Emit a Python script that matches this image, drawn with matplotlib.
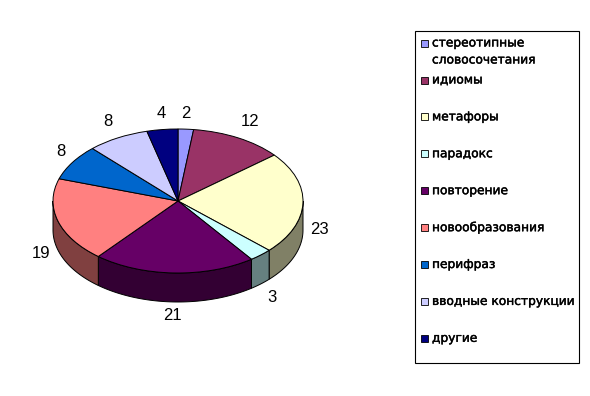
import numpy as np
import matplotlib
matplotlib.use("Agg")
import matplotlib.pyplot as plt
import matplotlib.patheffects as pe
from matplotlib.patches import Rectangle

W, H = 590, 396

# Data
labels = ["стереотипные\nсловосочетания", "идиомы", "метафоры", "парадокс", "повторение",
          "новообразования", "перифраз", "вводные конструкции", "другие"]
values = [2, 12, 23, 3, 21, 19, 8, 8, 4]
colors = ["#9999FF", "#993366", "#FFFFCC", "#CCFFFF", "#660066",
          "#FF8080", "#0066CC", "#CCCCFF", "#000080"]
side_colors = ["#4D4D80", "#4D1A33", "#808066", "#668080", "#330033",
               "#804040", "#003366", "#666680", "#000040"]
label_px = [(186, 113), (250, 121), (319, 230), (272, 298), (172, 316),
            (41, 253), (61, 152), (108, 121), (161, 114)]

# Pie geometry in pixels
cx, cy, rx, ry, depth = 178, 201, 125, 72, 29

fig = plt.figure(figsize=(W / 100, H / 100), dpi=100)
ax = fig.add_axes([0, 0, 1, 1])

wedges, _ = ax.pie(values, colors=colors, startangle=90, counterclock=False,
                   wedgeprops=dict(edgecolor="black", linewidth=0.7, zorder=3))
ax.set_aspect("auto")
ax.set_xlim(-cx / rx, (W - cx) / rx)
ax.set_ylim((cy - H) / ry, cy / ry)
ax.axis("off")

# Side wall, front half only
d = depth / ry
edges = np.cumsum([0] + values) / sum(values) * 360
for a0, a1, c in zip(edges[:-1], edges[1:], side_colors):
    a0, a1 = max(a0, 90), min(a1, 270)
    if a1 <= a0:
        continue
    a = np.radians(np.linspace(a0, a1, 60))
    x, y = np.sin(a), np.cos(a)
    ax.fill(np.r_[x, x[::-1]], np.r_[y, y[::-1] - d], facecolor=c,
            edgecolor="black", linewidth=0.7, zorder=2)

# Value labels
trans = fig.transFigure
for v, (px, py) in zip(values, label_px):
    fig.text(px / W, 1 - py / H, str(v), ha="center", va="center",
             fontsize=12, color="black", family="Liberation Sans")

# Legend box, drawn by hand because the first entry wraps
fig.add_artist(Rectangle((415 / W, 1 - 363 / H), 164 / W, 332 / H, transform=trans,
                         facecolor="white", edgecolor="black", linewidth=0.8))
row_y = [43] + [80 + 36.9 * i for i in range(8)]
bold = [pe.withStroke(linewidth=0.3, foreground="black")]
for name, c, y in zip(labels, colors, row_y):
    fig.add_artist(Rectangle((421 / W, 1 - (y + 3.5) / H), 7 / W, 7 / H, transform=trans,
                             facecolor=c, edgecolor="black", linewidth=0.6))
    fig.text(432 / W, 1 - (y - 6.5) / H, name, ha="left", va="top", fontsize=8.8,
             color="black", linespacing=1.4, family="DejaVu Sans", path_effects=bold)

fig.savefig("out.png", dpi=100)
